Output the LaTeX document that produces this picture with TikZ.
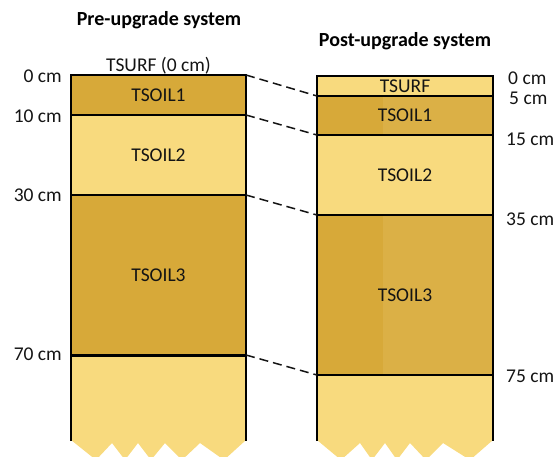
\documentclass[tikz,border=0pt]{standalone}
\usepackage{fontspec}
\setmainfont{Carlito}
\definecolor{lightsoil}{RGB}{248,218,126}
\definecolor{darksoil}{RGB}{215,169,57}
\definecolor{darksoilb}{RGB}{219,176,70}
\definecolor{inkc}{RGB}{20,20,20}
\begin{document}
\begin{tikzpicture}[x=1pt,y=-1pt,
  layer/.style={minimum width=175pt, inner sep=0pt, outer sep=0pt, draw=none,
    font=\fontsize{19.5}{23}\selectfont, text=inkc},
  rlayer/.style={layer, minimum width=176pt},
  split/.style={path picture={\fill[darksoilb] ([xshift=-22pt]path picture bounding box.north) rectangle (path picture bounding box.south east);}},
  lbl/.style={font=\fontsize{19.5}{23}\selectfont, text=inkc, inner sep=0pt},
  ttl/.style={font=\fontsize{20}{24}\selectfont\bfseries, text=black, inner sep=0pt},
  sepline/.style={line width=2.4pt, black},
  outline/.style={line width=2.6pt, black},
  dashline/.style={line width=1.5pt, inkc, dash pattern=on 9pt off 5pt}]
\useasboundingbox (0,0) rectangle (556,456);
\clip (0,0) rectangle (556,456);
% titles
\node[ttl, anchor=base] (pre) at (159,25) {Pre-upgrade system};
\node[ttl, anchor=base] (post) at (405,46) {Post-upgrade system};
% left column layers
\node[layer, fill=darksoil, minimum height=40pt] (l1) at (158.5,95) {TSOIL1};
\node[layer, fill=lightsoil, minimum height=80pt] (l2) at (158.5,155) {TSOIL2};
\node[layer, fill=darksoil, minimum height=160pt] (l3) at (158.5,275) {TSOIL3};
\node[layer, fill=lightsoil, minimum height=86pt] (l4) at (158.5,398) {};
\fill[lightsoil] (71,440) -- (96,460) -- (112,443) -- (125,460) -- (138,443) -- (151,460) -- (165,443) -- (182,460) -- (200,443) -- (224,460) -- (246,440) -- cycle;
% right column layers
\node[rlayer, fill=lightsoil, minimum height=20pt] (r0) at (405,86) {TSURF};
\node[rlayer, fill=darksoil, split, minimum height=39pt] (r1) at (405,115.5) {TSOIL1};
\node[rlayer, fill=lightsoil, minimum height=80pt] (r2) at (405,175) {TSOIL2};
\node[rlayer, fill=darksoil, split, minimum height=160pt] (r3) at (405,295) {TSOIL3};
\node[rlayer, fill=lightsoil, minimum height=66pt] (r4) at (405,408) {};
\fill[lightsoil] (317,440) -- (341,460) -- (360,443) -- (372,460) -- (385,443) -- (397,460) -- (410,443) -- (426,460) -- (443,443) -- (470,460) -- (493,440) -- cycle;
% separators left
\draw[sepline] (l1.south west) -- (l1.south east);
\draw[sepline] (l2.south west) -- (l2.south east);
\draw[line width=3pt] (l3.south west) -- (l3.south east);
\draw[outline] (l4.south west) -- (l1.north west) -- (l1.north east) -- (l4.south east);
% separators right
\draw[sepline] (r0.south west) -- (r0.south east);
\draw[sepline] (r1.south west) -- (r1.south east);
\draw[sepline] (r2.south west) -- (r2.south east);
\draw[sepline] (r3.south west) -- (r3.south east);
\draw[outline] (r4.south west) -- (r0.north west) -- (r0.north east) -- (r4.south east);
% labels
\node[lbl, anchor=base] (tsurf) at (158.5,71) {TSURF (0 cm)};
\node[lbl, anchor=base east] (d0) at (62,82.5) {0 cm};
\node[lbl, anchor=base east] (d10) at (62,122) {10 cm};
\node[lbl, anchor=base east] (d30) at (62,201.5) {30 cm};
\node[lbl, anchor=base east] (d70) at (62,360.5) {70 cm};
\node[lbl, anchor=base west] (e0) at (508,84) {0 cm};
\node[lbl, anchor=base west] (e5) at (509,104) {5 cm};
\node[lbl, anchor=base west] (e15) at (506,145) {15 cm};
\node[lbl, anchor=base west] (e35) at (506,225) {35 cm};
\node[lbl, anchor=base west] (e75) at (506,382) {75 cm};
% dashed connectors
\draw[dashline] (l1.north east) -- (r1.north west);
\draw[dashline] (l2.north east) -- (r2.north west);
\draw[dashline] (l3.north east) -- (r3.north west);
\draw[dashline] (l4.north east) -- (r4.north west);
\end{tikzpicture}
\end{document}
